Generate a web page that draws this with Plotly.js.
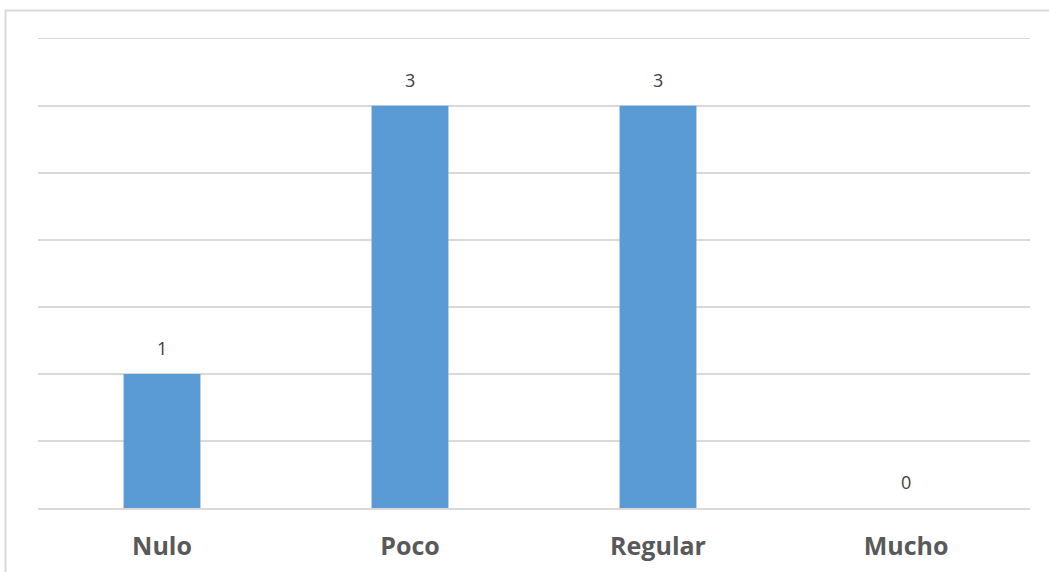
<!DOCTYPE html>
<html>
<head>
<meta charset="utf-8">
<script src="https://cdn.plot.ly/plotly-3.0.1.min.js"></script>
<style>
html,body{margin:0;padding:0;background:#fff;}
#chart{width:1049px;height:572px;}
</style>
</head>
<body>
<div id="chart"></div>
<script>
const categories = ["Nulo", "Poco", "Regular", "Mucho"];
const values = [1, 3, 3, 0];
const valueLabels = ["1", "3", "3", "0"];

const W = 1049, H = 572;
const margin = {l: 38, r: 19, t: 32, b: 64};
const pw = W - margin.l - margin.r, ph = H - margin.t - margin.b;

const trace = {
  type: "bar",
  x: categories,
  y: values,
  marker: {color: "#5B9BD5"},
  width: 0.31,
  hoverinfo: "none"
};

const annotations = categories.map((c, i) => ({
  x: c, y: values[i], xref: "x", yref: "y",
  text: valueLabels[i], showarrow: false,
  yanchor: "bottom", yshift: 12,
  font: {family: "'Open Sans', sans-serif", size: 18, color: "#404040"}
}));

const layout = {
  width: W, height: H,
  margin: margin,
  paper_bgcolor: "#fff",
  plot_bgcolor: "#fff",
  showlegend: false,
  bargap: 0.69,
  xaxis: {
    type: "category",
    showgrid: false,
    showline: true, linecolor: "#D9D9D9", linewidth: 1.5,
    ticks: "outside", ticklen: 15, tickcolor: "rgba(0,0,0,0)",
    tickfont: {family: "'Open Sans', sans-serif", size: 25, color: "#595959", weight: "bold"},
    fixedrange: true
  },
  yaxis: {
    range: [0, 3.55], tickvals: [0.5, 1, 1.5, 2, 2.5, 3, 3.5],
    showgrid: true, gridcolor: "#D9D9D9", gridwidth: 1.5,
    zeroline: false, showticklabels: false, ticks: "",
    fixedrange: true
  },
  annotations: annotations,
  shapes: [{
    type: "rect", xref: "paper", yref: "paper",
    x0: (5.5 - margin.l) / pw, x1: (W + 20 - margin.l) / pw,
    y0: -(H + 20 - margin.t - ph) / ph, y1: (H - 10.5 - margin.b) / ph,
    line: {color: "#D9D9D9", width: 2}, fillcolor: "rgba(0,0,0,0)", layer: "below"
  }]
};

Plotly.newPlot("chart", [trace], layout, {displayModeBar: false, staticPlot: true});
</script>
</body>
</html>
